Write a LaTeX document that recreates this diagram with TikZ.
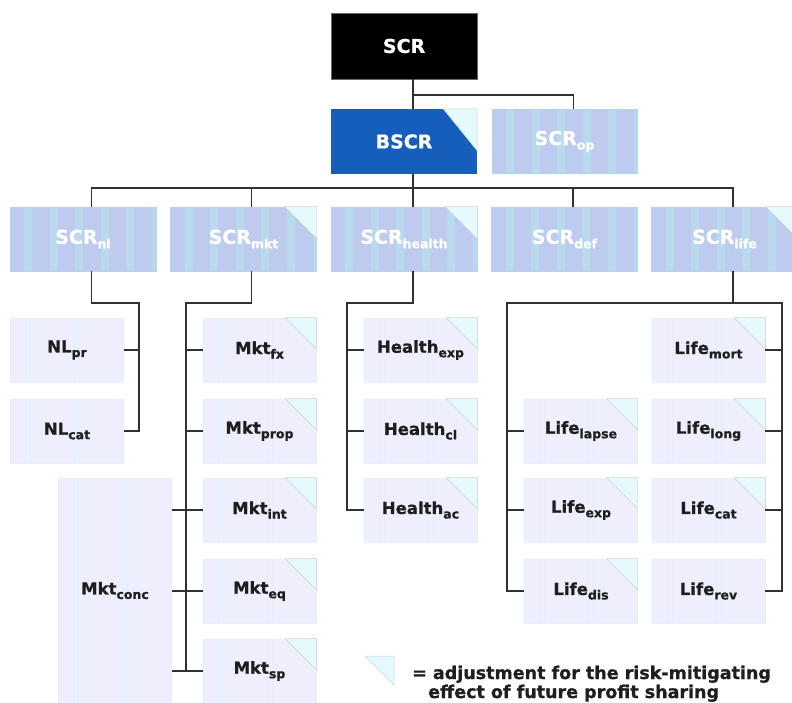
\documentclass[tikz,border=0pt]{standalone}
\usepackage{fontspec}
\setmainfont{DejaVu Sans}[BoldFeatures={FakeBold=0.8}]
\usetikzlibrary{calc}
\definecolor{bscrblue}{RGB}{21,94,188}
\definecolor{lbase}{RGB}{190,203,238}
\definecolor{lstripe}{RGB}{184,218,236}
\definecolor{lborder}{RGB}{178,212,240}
\definecolor{sbase}{RGB}{238,238,253}
\definecolor{sline}{RGB}{224,240,254}
\definecolor{foldc}{RGB}{228,250,252}
\definecolor{conncol}{RGB}{50,50,50}
\definecolor{txt}{RGB}{30,30,30}
\newcommand\sbs[1]{\raisebox{-4.5pt}{\fontsize{12.5}{12.5}\selectfont #1}}
\begin{document}
\begin{tikzpicture}[x=1pt,y=-1pt,
  conn/.style={draw=conncol,line width=1.7pt},
  bigfont/.style={font=\fontsize{19}{22}\selectfont\bfseries},
  topbox/.style={rectangle,inner sep=0pt,minimum width=146pt,minimum height=66pt,
    fill=black,draw=black!60,line width=0.5pt,text=white,bigfont},
  bluebox/.style={rectangle,inner sep=0pt,minimum width=146pt,minimum height=65pt,
    fill=bscrblue,text=white,bigfont},
  lightbox/.style={rectangle,inner sep=0pt,minimum width=146pt,minimum height=64pt,
    fill=lbase,draw=lborder,line width=0.6pt,text=white,bigfont,
    path picture={\foreach \i in {0,...,5}{\fill[lstripe] ([xshift={14+\i*25.6}]path picture bounding box.north west) rectangle ++(8,80);}}},
  smallbox/.style={rectangle,inner sep=0pt,minimum width=113pt,minimum height=64pt,
    fill=sbase,draw=sline,line width=0.6pt,text=txt,font=\fontsize{16.5}{19}\selectfont\bfseries,
    path picture={\foreach \o in {15,20,64,69}{\draw[sline,line width=0.8pt] ([xshift=\o]path picture bounding box.north west) -- ++(0,300);}}},
  foldtri/.style={fill=foldc,draw=black!18,line width=0.5pt},
  legendtext/.style={anchor=base west,inner sep=0pt,text=txt,font=\fontsize{17.5}{19}\selectfont\bfseries}
]
\useasboundingbox (0,0) rectangle (792,702);
\fill[white] (0,0) rectangle (792,702);

% top levels
\node[topbox] (scr) at (404,46) {SCR};
\node[bluebox] (bscr) at (404,141.5) {BSCR};
\node[lightbox,minimum width=145pt] (op) at (564.5,141.5) {SCR\sbs{op}};

% second row
\node[lightbox] (nl) at (83,239) {SCR\sbs{nl}};
\node[lightbox] (mkt) at (243.5,239) {SCR\sbs{mkt}};
\node[lightbox] (health) at (404,239) {SCR\sbs{health}};
\node[lightbox] (def) at (564.5,239) {SCR\sbs{def}};
\node[lightbox] (life) at (724.5,239) {SCR\sbs{life}};

% NL
\node[smallbox] (nlpr) at (67,350) {NL\sbs{pr}};
\node[smallbox] (nlcat) at (67,431) {NL\sbs{cat}};
% Mkt
\node[smallbox] (mktfx) at (259.5,350) {Mkt\sbs{fx}};
\node[smallbox] (mktprop) at (259.5,431) {Mkt\sbs{prop}};
\node[smallbox] (mktint) at (259.5,510) {Mkt\sbs{int}};
\node[smallbox] (mkteq) at (259.5,591) {Mkt\sbs{eq}};
\node[smallbox] (mktsp) at (259.5,671) {Mkt\sbs{sp}};
\node[smallbox,minimum height=225pt] (mktconc) at (115,590.5) {Mkt\sbs{conc}};
% Health
\node[smallbox] (hexp) at (420.5,350) {Health\sbs{exp}};
\node[smallbox] (hcl) at (420.5,431) {Health\sbs{cl}};
\node[smallbox] (hac) at (420.5,510) {Health\sbs{ac}};
% Life
\node[smallbox] (llapse) at (581,431) {Life\sbs{lapse}};
\node[smallbox] (lexp) at (581,510) {Life\sbs{exp}};
\node[smallbox] (ldis) at (581,591) {Life\sbs{dis}};
\node[smallbox] (lmort) at (708.5,350) {Life\sbs{mort}};
\node[smallbox] (llong) at (708.5,431) {Life\sbs{long}};
\node[smallbox] (lcat) at (708.5,510) {Life\sbs{cat}};
\node[smallbox] (lrev) at (708.5,591) {Life\sbs{rev}};

% fold corners
\filldraw[foldtri] ([xshift=-34pt]bscr.north east) -- (bscr.north east) -- ([yshift=-42pt]bscr.north east) -- cycle;
\foreach \n in {mkt,health,life}
  \filldraw[foldtri] ([xshift=-32pt]\n.north east) -- (\n.north east) -- ([yshift=-32pt]\n.north east) -- cycle;
\foreach \n in {mktfx,mktprop,mktint,mkteq,mktsp,hexp,hcl,hac,llapse,lexp,ldis,lmort,llong,lcat}
  \filldraw[foldtri] ([xshift=-31pt]\n.north east) -- (\n.north east) -- ([yshift=-31pt]\n.north east) -- cycle;

% connectors top
\draw[conn] ([xshift=9pt]scr.south) -- ([xshift=9pt]bscr.north);
\draw[conn] ([xshift=9pt]scr.south) -- ++(0,16) -| ([xshift=9pt]op.north);
\draw[conn] ([xshift=9pt]bscr.south) -- ++(0,14) coordinate (hb);
\draw[conn] (hb) -| ([xshift=8.5pt]nl.north);
\draw[conn] (hb) -| ([xshift=8pt]mkt.north);
\draw[conn] (hb) -- ([xshift=9pt]health.north);
\draw[conn] (hb) -| ([xshift=8.5pt]def.north);
\draw[conn] (hb) -| ([xshift=8.5pt]life.north);

% NL connectors
\draw[conn] ([xshift=8.5pt]nl.south) -- ++(0,32) -| ($(nlcat.east)+(15,0)$) -- (nlcat.east);
\draw[conn] (nlpr.east) -- ++(15,0);

% Mkt connectors
\draw[conn] ([xshift=8pt]mkt.south) -- ++(0,32) -| ($(mktsp.west)+(-17,0)$) -- (mktsp.west);
\draw[conn] (mktfx.west) -- ++(-17,0);
\draw[conn] (mktprop.west) -- ++(-17,0);
\draw[conn] (mktconc.east |- mktint.west) -- (mktint.west);
\draw[conn] (mktconc.east |- mkteq.west) -- (mkteq.west);
\draw[conn] (mktconc.east |- mktsp.west) -- (mktsp.west);

% Health connectors
\draw[conn] ([xshift=9pt]health.south) -- ++(0,32) -| ($(hac.west)+(-17,0)$) -- (hac.west);
\draw[conn] (hexp.west) -- ++(-17,0);
\draw[conn] (hcl.west) -- ++(-17,0);

% Life connectors
\draw[conn] ([xshift=8.5pt]life.south) -- ++(0,32) coordinate (lb);
\draw[conn] (lb) -| ($(ldis.west)+(-17.5,0)$) -- (ldis.west);
\draw[conn] (lb) -| ($(lrev.east)+(17,0)$) -- (lrev.east);
\draw[conn] (llapse.west) -- ++(-17.5,0);
\draw[conn] (lexp.west) -- ++(-17.5,0);
\draw[conn] (lmort.east) -- ++(17,0);
\draw[conn] (llong.east) -- ++(17,0);
\draw[conn] (lcat.east) -- ++(17,0);

% legend
\filldraw[foldtri] (365,656) -- (394,656) -- (394,685) -- cycle;
\node[legendtext] (leg1) at (412,679) {= adjustment for the risk-mitigating};
\node[legendtext] (leg2) at (428,698) {effect of future profit sharing};
\end{tikzpicture}
\end{document}
